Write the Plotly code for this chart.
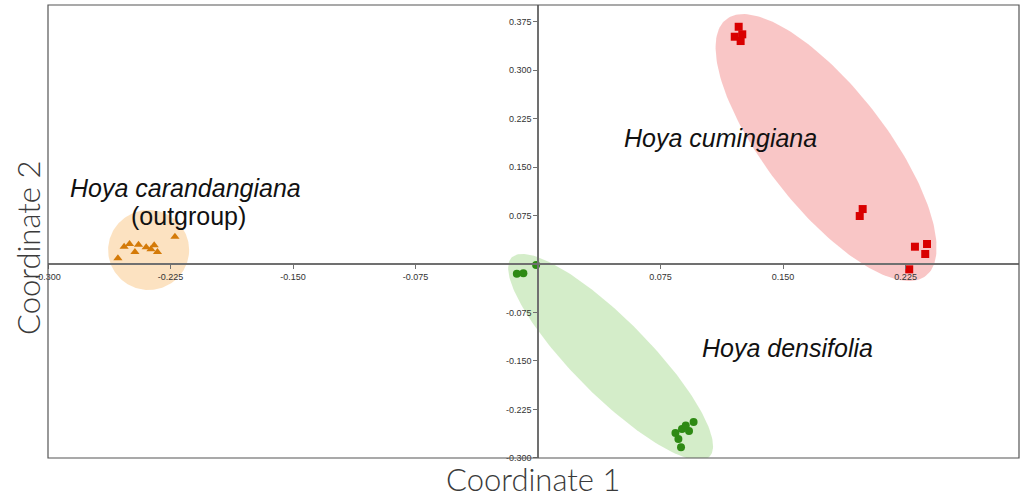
import numpy as np
import plotly.graph_objects as go

# PCoA coordinates per species
cum_x = [0.1228, 0.1204, 0.1250, 0.1240, 0.1987, 0.1969, 0.2307, 0.2381, 0.2370, 0.2272]
cum_y = [0.3673, 0.3519, 0.3556, 0.3452, 0.0851, 0.0743, 0.0268, 0.0310, 0.0155, -0.0082]

den_x = [-0.0130, -0.0090, -0.0012, 0.0841, 0.0859, 0.0881, 0.0904, 0.0924, 0.0952, 0.0875]
den_y = [-0.0150, -0.0144, -0.0015, -0.2616, -0.2709, -0.2554, -0.2500, -0.2585, -0.2446, -0.2837]

car_x = [-0.2572, -0.2534, -0.2501, -0.2468, -0.2446, -0.2399, -0.2370, -0.2350, -0.2330, -0.2223]
car_y = [0.0088, 0.0268, 0.0310, 0.0186, 0.0299, 0.0259, 0.0228, 0.0289, 0.0186, 0.0423]

# group ellipses: centre, major half-axis vector, minor half-axis vector (data units)
cum_ell = [0.1763, 0.1803, 0.0611, -0.1986, 0.0290, 0.0570]
den_ell = [0.0444, -0.1440, 0.0605, -0.1542, 0.0165, 0.0415]
car_ell = [-0.2384, 0.0217, 0.0248, 0.0, 0.0, 0.0619]

tick_vals = [-0.300, -0.225, -0.150, -0.075, 0.075, 0.150, 0.225, 0.300, 0.375]
x_range = [-0.300, 0.2944]
y_range = [-0.3003, 0.4010]


def ellipse(params, n=200):
    cx, cy, ux, uy, vx, vy = params
    t = np.linspace(0, 2 * np.pi, n)
    return cx + np.cos(t) * ux + np.sin(t) * vx, cy + np.cos(t) * uy + np.sin(t) * vy


fig = go.Figure()

for params, fill in [(cum_ell, "rgba(248,192,192,0.9)"),
                     (den_ell, "rgba(210,236,198,0.95)"),
                     (car_ell, "rgba(252,224,190,0.95)")]:
    ex, ey = ellipse(params)
    fig.add_trace(go.Scatter(x=ex, y=ey, mode="lines", fill="toself",
                             fillcolor=fill, line=dict(width=0),
                             hoverinfo="skip", showlegend=False))

fig.add_trace(go.Scatter(x=cum_x, y=cum_y, mode="markers", showlegend=False,
                         marker=dict(symbol="square", size=8, color="#D90000")))
fig.add_trace(go.Scatter(x=den_x, y=den_y, mode="markers", showlegend=False,
                         marker=dict(symbol="circle", size=8, color="#2E8A14")))
fig.add_trace(go.Scatter(x=car_x, y=car_y, mode="markers", showlegend=False,
                         marker=dict(symbol="triangle-up", size=8, color="#D47A08")))

# axes cross at the origin
x_pos = (0 - y_range[0]) / (y_range[1] - y_range[0])
y_pos = (0 - x_range[0]) / (x_range[1] - x_range[0])

x_ticks = [v for v in tick_vals if x_range[0] - 1e-9 <= v <= x_range[1]]
y_ticks = [v for v in tick_vals if y_range[0] - 1e-9 <= v <= y_range[1]]
tick_font = dict(family="Liberation Sans, Arial, sans-serif", size=9, color="#333333")

fig.update_xaxes(range=x_range, anchor="free", position=x_pos,
                 showline=True, linecolor="#707070", linewidth=1.5,
                 showgrid=False, zeroline=False,
                 ticks="outside", ticklen=4, tickcolor="#707070", tickwidth=1,
                 tickvals=x_ticks, ticktext=[f"{v:.3f}" for v in x_ticks],
                 tickfont=tick_font)
fig.update_yaxes(range=y_range, anchor="free", position=y_pos,
                 showline=True, linecolor="#707070", linewidth=1.5,
                 showgrid=False, zeroline=False,
                 ticks="outside", ticklen=4, tickcolor="#707070", tickwidth=1,
                 tickvals=y_ticks, ticktext=[f"{v:.3f}" for v in y_ticks],
                 tickfont=tick_font)

# plot frame
fig.add_shape(type="rect", xref="paper", yref="paper", x0=0, y0=0, x1=1, y1=1,
              line=dict(color="#555555", width=1.2), layer="above")

label_font = dict(family="Liberation Sans, Arial, sans-serif", size=25, color="#111111")
for text, x, y in [("<i>Hoya cumingiana</i>", 0.1114, 0.195),
                   ("<i>Hoya densifolia</i>", 0.1524, -0.130),
                   ("<i>Hoya carandangiana</i>", -0.216, 0.1177),
                   ("(outgroup)", -0.2142, 0.0743)]:
    fig.add_annotation(x=x, y=y, text=text, showarrow=False, font=label_font,
                       xanchor="center", yanchor="middle", borderpad=0)

title_font = dict(family="Lato, Open Sans, sans-serif", size=31, color="#3a3a3a",
                  weight=300)
fig.add_annotation(x=0.4995, y=-0.0905, xref="paper", yref="paper",
                   text="Coordinate 1", showarrow=False, font=title_font,
                   xanchor="center", yanchor="bottom", borderpad=0)
fig.add_annotation(x=-0.0206, y=0.4636, xref="paper", yref="paper",
                   text="Coordinate 2", showarrow=False, font=title_font,
                   textangle=-90, xanchor="center", yanchor="middle", borderpad=0)

fig.update_layout(width=1021, height=499,
                  margin=dict(l=48, r=2, t=5, b=41),
                  paper_bgcolor="white", plot_bgcolor="white")

fig.write_html("out.html")
